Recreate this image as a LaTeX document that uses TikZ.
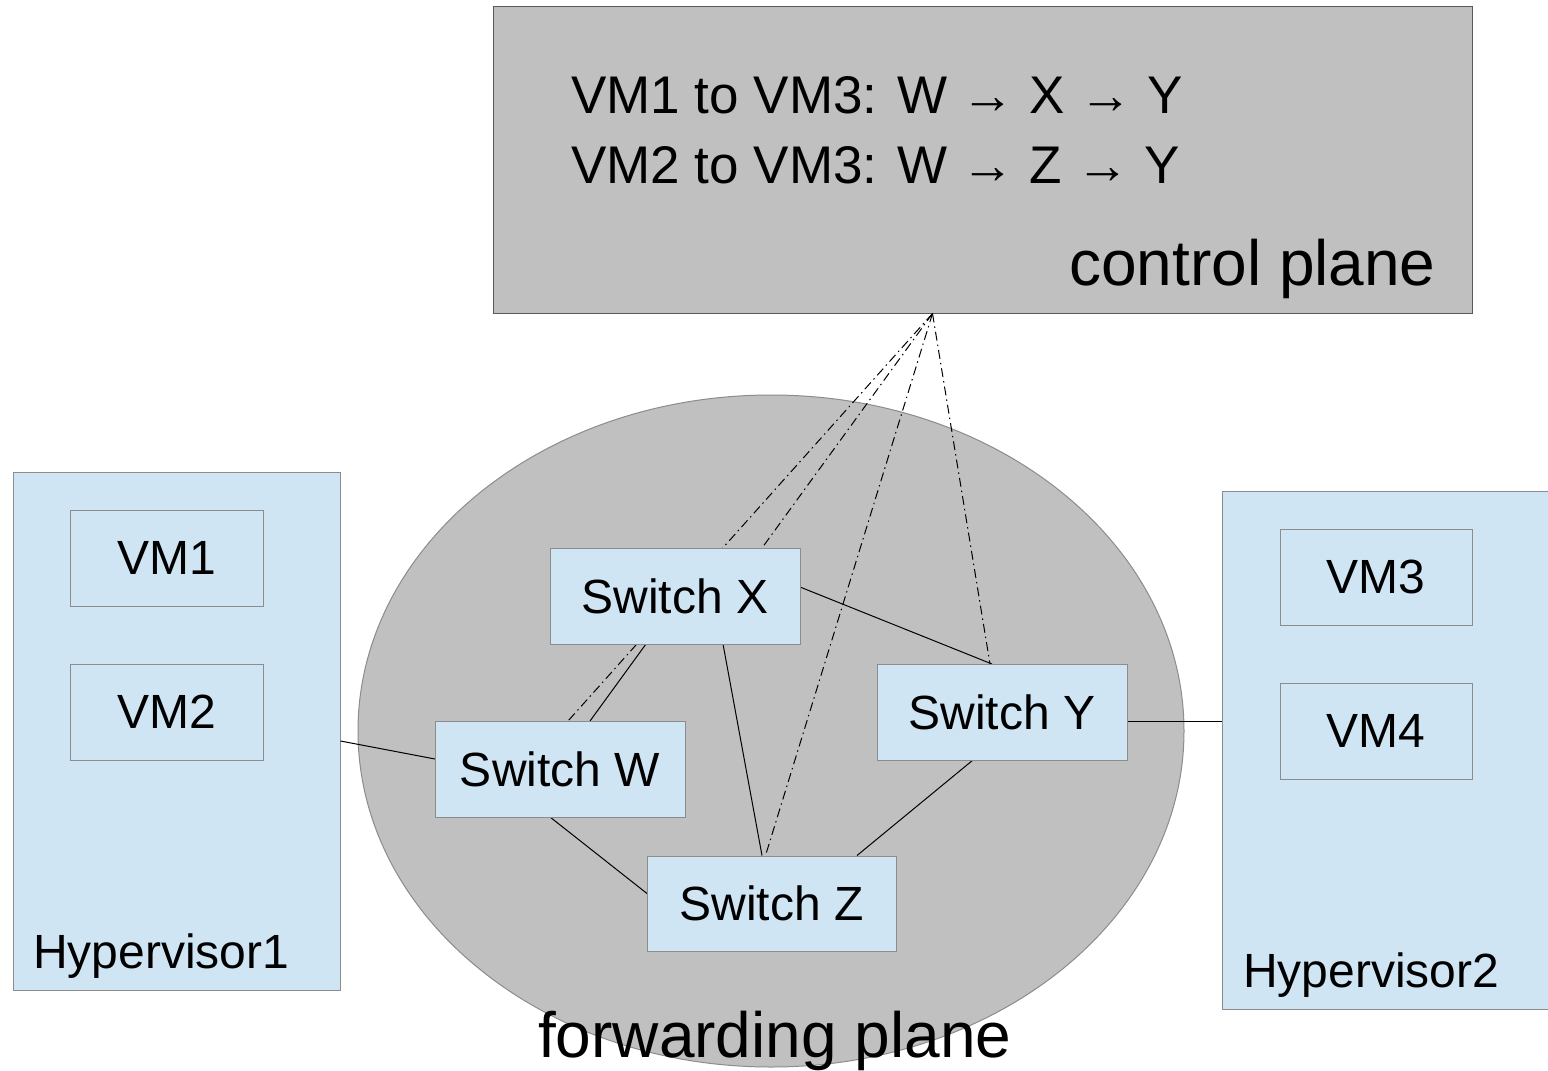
\documentclass[tikz,border=0pt]{standalone}
\usepackage{fontspec}
\setmainfont{Liberation Sans}
\usetikzlibrary{calc,shapes.geometric}
\definecolor{planegray}{HTML}{C0C0C0}
\definecolor{hostblue}{HTML}{CFE5F3}
\definecolor{edgegray}{HTML}{8C8C8C}
\tikzset{
  bluebox/.style={draw=edgegray, fill=hostblue, line width=1pt, inner sep=0pt, font=\fontsize{48}{56}\selectfont},
  vmbox/.style={bluebox, minimum width=193pt, minimum height=96pt},
  swbox/.style={bluebox, minimum width=250pt, minimum height=96pt},
  hostbox/.style={bluebox, minimum height=518pt},
  link/.style={draw=black, line width=1pt},
  ctrl/.style={draw=black, line width=1pt, dash pattern=on 9pt off 4pt on 1.5pt off 4pt},
  biglabel/.style={inner sep=0pt, font=\fontsize{64}{70}\selectfont},
  routelabel/.style={inner sep=0pt, font=\fontsize{53}{60}\selectfont},
  hostlabel/.style={inner sep=0pt, font=\fontsize{48}{56}\selectfont}
}
\begin{document}
\begin{tikzpicture}[x=1pt,y=-1pt]
\useasboundingbox (0,0) rectangle (1548,1071);

% control plane
\node[draw=black!65, fill=planegray, line width=1pt, minimum width=979pt, minimum height=307pt, inner sep=0pt] (cp) at (982.5,159.5) {};
\node[routelabel, anchor=base west] (r1) at (571,113) {VM1 to VM3: W → X → Y};
\node[routelabel, anchor=base west] (r2) at (571,183) {VM2 to VM3: W → Z → Y};
\node[biglabel, anchor=base west] (cpl) at (1069,285) {control plane};

% forwarding plane
\node[draw=edgegray, fill=planegray, line width=1pt, ellipse, minimum width=826pt, minimum height=672pt, inner sep=0pt] (fp) at (771,731) {};

% hypervisors
\node[hostbox, minimum width=327pt] (h1) at (176.5,731) {};
\node[hostbox, minimum width=330pt] (h2) at (1387,750) {};
\node[vmbox] (vm1) at (166.5,558) {VM1};
\node[vmbox] (vm2) at (166.5,712) {VM2};
\node[vmbox, minimum width=192pt] (vm3) at (1376,577) {VM3};
\node[vmbox, minimum width=192pt] (vm4) at (1376,731) {VM4};
\node[hostlabel, anchor=base west] (h1l) at (33,968) {Hypervisor1};
\node[hostlabel, anchor=base west] (h2l) at (1243,987) {Hypervisor2};

% switch centres (links are drawn first so they run behind the boxes)
\path (560,769) coordinate (Wc) (675,596) coordinate (Xc) (1002,712) coordinate (Yc) (771.5,903.5) coordinate (Zc);
\coordinate (hub) at ($(cp.south)+(-50,0)$);

% control channels
\draw[ctrl] (hub) -- ($(Wc)+(8,-48)$);
\draw[ctrl] (hub) -- ($(Xc)+(87,-48)$);
\draw[ctrl] (hub) -- ($(Zc)+(-6,-48)$);
\draw[ctrl] (hub) -- ($(Yc)+(-12,-48)$);

% data links
\draw[link] ($(h1.east)+(0,10)$) -- ($(Wc)+(-125,-10)$);
\draw[link] ($(Wc)+(30,-48)$) -- ($(Xc)+(-29,48)$);
\draw[link] ($(Xc)+(48,48)$) -- ($(Zc)+(-9.5,-48)$);
\draw[link] ($(Xc)+(125,-9)$) -- ($(Yc)+(-10,-48)$);
\draw[link] ($(Wc)+(-10,48)$) -- ($(Zc)+(-124.5,-10)$);
\draw[link] ($(Yc)+(-29,48)$) -- ($(Zc)+(85.5,-48)$);
\draw[link] ($(Yc)+(125,9)$) -- ($(h2.west)+(0,-29)$);

% switches
\node[swbox] (W) at (Wc) {Switch W};
\node[swbox] (X) at (Xc) {Switch X};
\node[swbox] (Y) at (Yc) {Switch Y};
\node[swbox, minimum width=249pt, minimum height=95pt] (Z) at (Zc) {Switch Z};

\node[biglabel, anchor=base west] (fpl) at (538,1057) {forwarding plane};
\end{tikzpicture}
\end{document}
